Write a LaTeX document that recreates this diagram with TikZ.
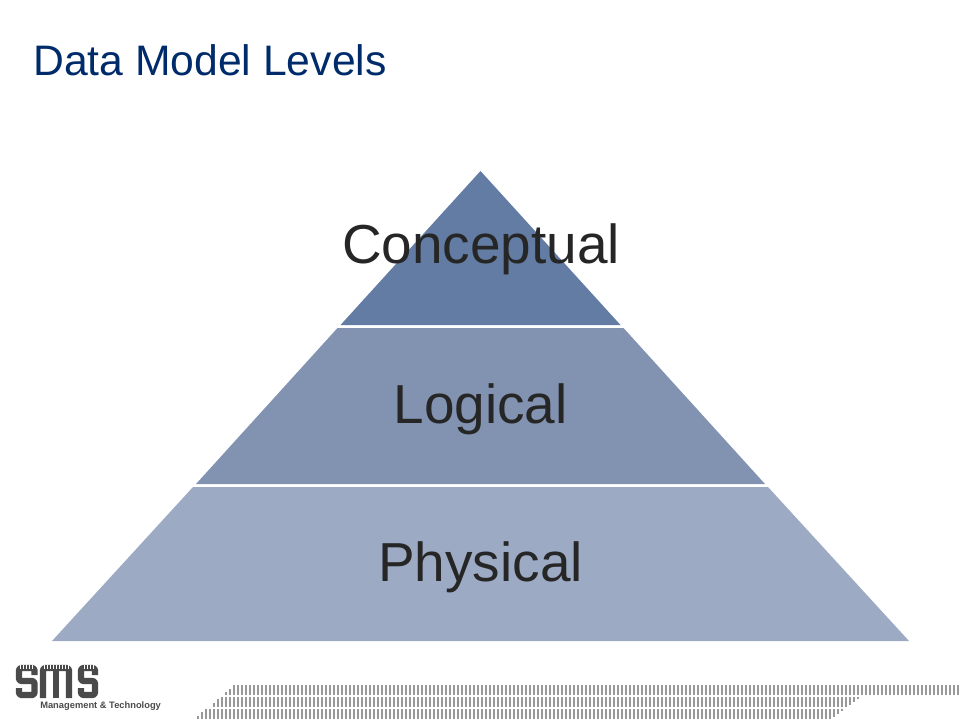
\documentclass[tikz,border=0pt]{standalone}
\usepackage{fontspec}
\setmainfont{Liberation Sans}
\definecolor{lvlA}{HTML}{637CA3}
\definecolor{lvlB}{HTML}{8293B2}
\definecolor{lvlC}{HTML}{9CAAC4}
\definecolor{titleblue}{HTML}{002B6B}
\definecolor{lbl}{HTML}{262626}
\definecolor{logo}{HTML}{4A4A4A}
\definecolor{bar}{HTML}{999999}
\tikzset{
  level label/.style={anchor=base,inner sep=0pt,text=lbl,font=\fontsize{41.2}{41}\selectfont},
  title label/.style={anchor=base west,inner sep=0pt,text=titleblue,font=\fontsize{32}{32}\selectfont},
  logo stroke/.style={draw=logo,line width=4.8pt,line cap=butt,line join=round,rounded corners=2pt},
  logo cut/.style={draw=white,line width=0.5pt},
  stripe/.style={draw=bar,line width=1.5pt}
}
\begin{document}
\begin{tikzpicture}[x=0.75pt,y=-0.75pt]
\useasboundingbox (0,0) rectangle (960,720);
% pyramid
\fill[lvlA] (480.5,171) -- (620.5,325) -- (340.5,325) -- cycle;
\fill[lvlB] (623.5,328) -- (765,484) -- (196,484) -- (337.5,328) -- cycle;
\fill[lvlC] (768,487) -- (909,641) -- (52,641) -- (193,487) -- cycle;
% labels
\node[title label] (title) at (33,76) {Data Model Levels};
\node[level label] (conceptual) at (481,264) {Conceptual};
\node[level label] (logical) at (480.5,423) {Logical};
\node[level label] (physical) at (480.5,581) {Physical};
% stripes: rows with tapered ends
\foreach \i in {0,...,182} {\draw[stripe] ({234+4*\i},685) -- ({234+4*\i},694.5);}
\foreach \i in {0,...,156} {\draw[stripe] ({222+4*\i},697) -- ({222+4*\i},707);}
\foreach \i in {0,...,156} {\draw[stripe] ({206+4*\i},709) -- ({206+4*\i},719);}
\foreach \x/\t in {230/689,226/692}{\draw[stripe] (\x,\t) -- (\x,694.5);}
\foreach \x/\t in {218/699,214/703}{\draw[stripe] (\x,\t) -- (\x,707);}
\foreach \x/\t in {202/712,198/716}{\draw[stripe] (\x,\t) -- (\x,719);}
\foreach \x/\b in {850/705,854/702,858/699}{\draw[stripe] (\x,697) -- (\x,\b);}
\foreach \x/\b in {834/717,838/714,842/711}{\draw[stripe] (\x,709) -- (\x,\b);}
% logo
\draw[logo stroke] (34.5,675) -- (34.5,668) -- (19,668) -- (19,681) -- (34.5,681) -- (34.5,695) -- (19,695) -- (19,688);
\draw[logo stroke] (43,698) -- (43,668) -- (69,668) -- (69,698);
\draw[logo stroke] (56,668) -- (56,698);
\draw[logo stroke] (95,675) -- (95,668) -- (81,668) -- (81,681) -- (95,681) -- (95,695) -- (81,695) -- (81,688);
\foreach \x in {20,23,26,29,32,44,47,50,53,56,59,62,65,68,84,87,90,93}
  {\draw[logo cut] (\x,664.5) -- (\x,669);}
\node[anchor=base west,inner sep=0pt,text=logo,font=\fontsize{7}{7}\selectfont\bfseries] (tagline) at (40,708.5) {Management \& Technology};
\end{tikzpicture}
\end{document}
